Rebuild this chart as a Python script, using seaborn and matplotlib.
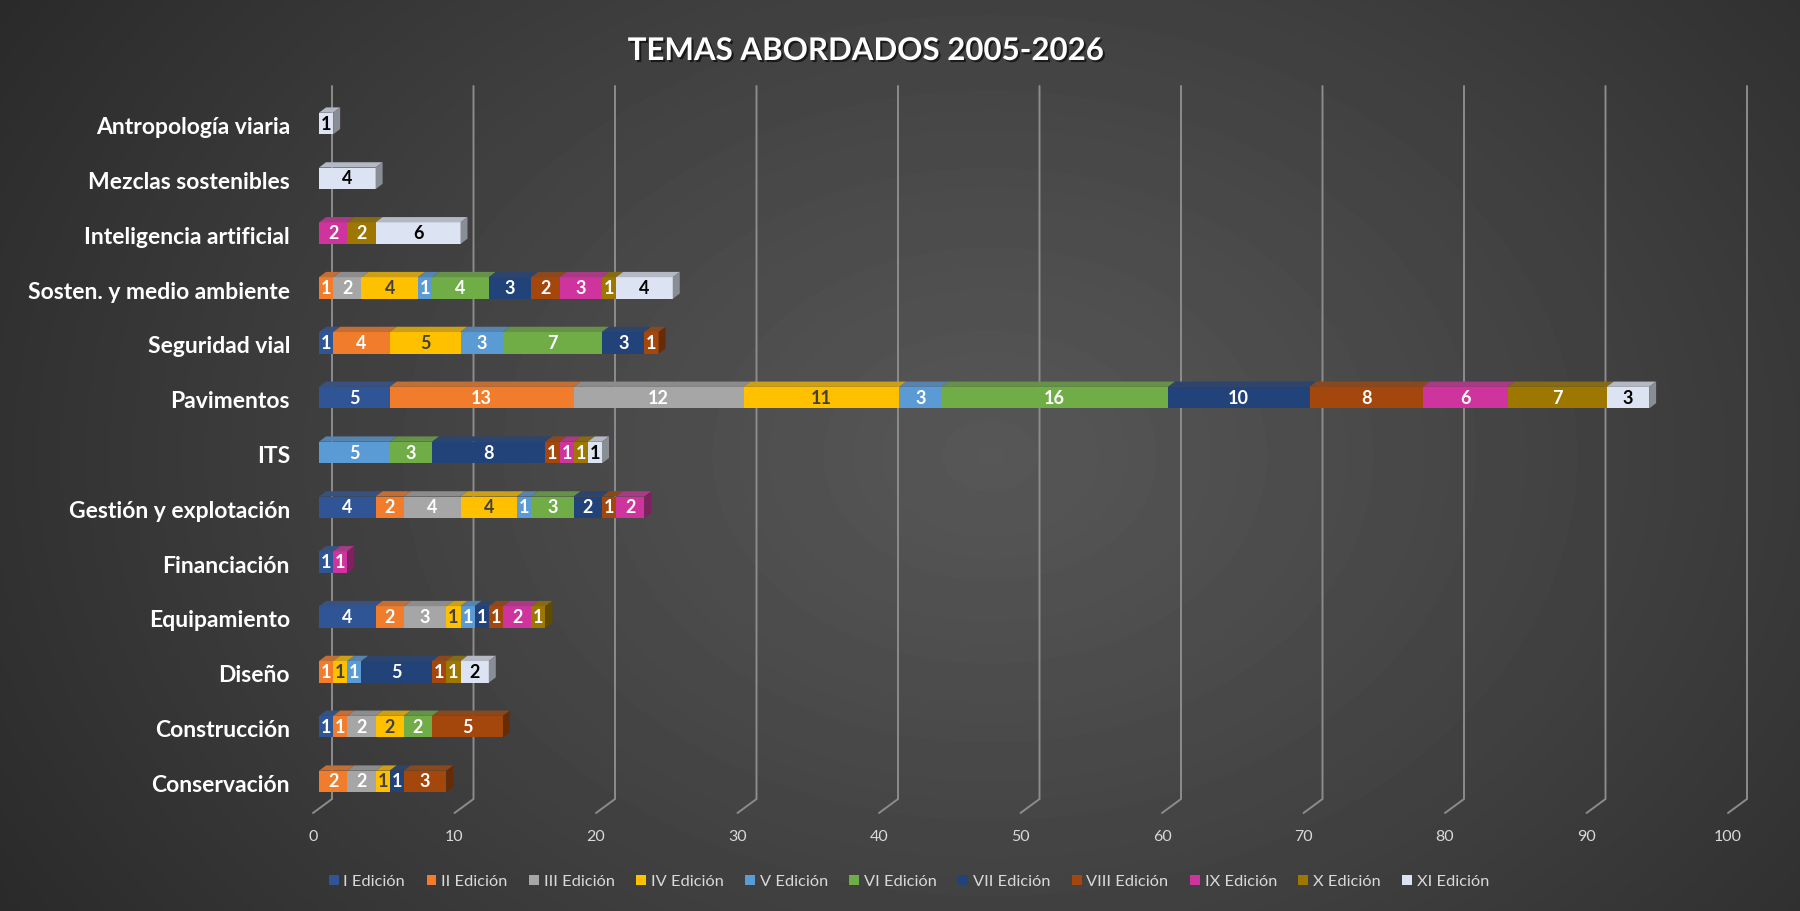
import numpy as np
import pandas as pd
import matplotlib
matplotlib.use("Agg")
import matplotlib.pyplot as plt
import seaborn as sns
from matplotlib.patches import Polygon, Patch
import matplotlib.patheffects as pe
from matplotlib import colors as mcolors

# ---------------- data ----------------
categories = ["Antropología viaria", "Mezclas sostenibles", "Inteligencia artificial",
              "Sosten. y medio ambiente", "Seguridad vial", "Pavimentos", "ITS",
              "Gestión y explotación", "Financiación", "Equipamiento", "Diseño",
              "Construcción", "Conservación"]
editions = ["I Edición", "II Edición", "III Edición", "IV Edición", "V Edición",
            "VI Edición", "VII Edición", "VIII Edición", "IX Edición", "X Edición",
            "XI Edición"]
ed_I    = [0, 0, 0, 0, 1, 5, 0, 4, 1, 4, 0, 1, 0]
ed_II   = [0, 0, 0, 1, 4, 13, 0, 2, 0, 2, 1, 1, 2]
ed_III  = [0, 0, 0, 2, 0, 12, 0, 4, 0, 3, 0, 2, 2]
ed_IV   = [0, 0, 0, 4, 5, 11, 0, 4, 0, 1, 1, 2, 1]
ed_V    = [0, 0, 0, 1, 3, 3, 5, 1, 0, 1, 1, 0, 0]
ed_VI   = [0, 0, 0, 4, 7, 16, 3, 3, 0, 0, 0, 2, 0]
ed_VII  = [0, 0, 0, 3, 3, 10, 8, 2, 0, 1, 5, 0, 1]
ed_VIII = [0, 0, 0, 2, 1, 8, 1, 1, 0, 1, 1, 5, 3]
ed_IX   = [0, 0, 2, 3, 0, 6, 1, 2, 1, 2, 0, 0, 0]
ed_X    = [0, 0, 2, 1, 0, 7, 1, 0, 0, 1, 1, 0, 0]
ed_XI   = [1, 4, 6, 4, 0, 3, 1, 0, 0, 0, 2, 0, 0]
series = [ed_I, ed_II, ed_III, ed_IV, ed_V, ed_VI, ed_VII, ed_VIII, ed_IX, ed_X, ed_XI]
x_ticks = list(range(0, 101, 10))
title = "TEMAS ABORDADOS 2005-2026"

# ---------------- style ----------------
colors = ["#2F5597", "#F07C2C", "#A6A6A6", "#FFC000", "#5B9BD5", "#70AD47",
          "#22427A", "#A4470C", "#CF339D", "#9E7700", "#DCE3F2"]
label_colors = ["white", "white", "white", "#404040", "white", "white",
                "white", "white", "white", "white", "black"]

sns.set_theme(style="white")
plt.rcParams["font.family"] = ["Lato", "DejaVu Sans"]

W, H = 1800, 911
fig = plt.figure(figsize=(W / 100, H / 100), dpi=100)

# background radial gradient
yy, xx = np.mgrid[0:H, 0:W]
r = np.sqrt(((xx - 0.55 * W) / W) ** 2 + ((yy - 0.5 * H) / (0.75 * W)) ** 2)
r = r / r.max()
val = 0x57 - (0x57 - 0x2A) * r ** 1.1
bgax = fig.add_axes([0, 0, 1, 1], zorder=-10)
bgax.imshow(val, cmap="gray", vmin=0, vmax=255, aspect="auto", interpolation="bilinear")
bgax.axis("off")

# main axes geometry (pixels)
ax_left, ax_right, ax_top, ax_bot = 319, 1734, 86, 799
ax = fig.add_axes([ax_left / W, 1 - ax_bot / H, (ax_right - ax_left) / W, (ax_bot - ax_top) / H])
ax.set_facecolor("none")

BAR_H = 0.394
vals = np.array(series, dtype=float)          # (11, 13)
cum = np.cumsum(vals, axis=0)

# front faces: overlay cumulative bars from last to first
for k in reversed(range(len(series))):
    sns.barplot(x=cum[k], y=categories, order=categories, color=colors[k],
                saturation=1, width=BAR_H, orient="h", errorbar=None,
                linewidth=0, ax=ax, zorder=3)

ylim_bottom = 12 + (ax_bot - 781.5) / 54.83
ylim_top = -(123.5 - ax_top) / 54.83
ax.set_xlim(0, 100)
ax.set_ylim(ylim_bottom, ylim_top)

ppx = (ax_right - ax_left) / 100.0
ppy = (ax_bot - ax_top) / (ylim_bottom - ylim_top)
dx = 7 / ppx
dy = 5.3 / ppy


def shade(c, f, base):
    c = np.array(mcolors.to_rgb(c))
    b = np.array(mcolors.to_rgb(base))
    return tuple(c * f + b * (1 - f))


# 3D top/side faces + labels
for i, cat in enumerate(categories):
    left = 0.0
    last = None
    yt = i - BAR_H / 2
    yb = i + BAR_H / 2
    for k in range(len(series)):
        v = vals[k, i]
        if v == 0:
            continue
        x0, x1 = left, left + v
        ax.add_patch(Polygon([(x0, yt), (x1, yt), (x1 + dx, yt - dy), (x0 + dx, yt - dy)],
                             closed=True, facecolor=shade(colors[k], 0.72, "#4A4A4A"),
                             linewidth=0, zorder=4, clip_on=False))
        ax.text((x0 + x1) / 2, i + 0.5 / ppy, f"{int(v)}", ha="center", va="center",
                fontsize=13, fontweight="bold", color=label_colors[k], zorder=6)
        left = x1
        last = k
    if last is not None:
        ax.add_patch(Polygon([(left, yt), (left + dx, yt - dy), (left + dx, yb - dy), (left, yb)],
                             closed=True, facecolor=shade(colors[last], 0.62, "#000000"),
                             linewidth=0, zorder=5, clip_on=False))
    # category label
    ax.text(-29 / ppx, i + 4 / ppy, cat, ha="right", va="center", fontsize=16.5,
            fontweight="bold", color="white", clip_on=False)

# gridlines (back wall + floor)
for v in x_ticks:
    xb = v + 13 / ppx
    ax.plot([xb, xb, v - 6 / ppx], [ylim_top, ylim_bottom, ylim_bottom + 14 / ppy],
            color="#8C8C8C", lw=1.4, clip_on=False, zorder=1, solid_joinstyle="miter")
    ax.text(v - 6 / ppx, ylim_bottom + (837 - ax_bot) / ppy, str(v), ha="center",
            va="center", fontsize=11.5, color="#D9D9D9", clip_on=False)

ax.set_xticks([])
ax.set_yticks([])
ax.set_xlabel("")
ax.set_ylabel("")
for s in ax.spines.values():
    s.set_visible(False)

# title
fig.text(866 / W, 1 - 51 / H, title, ha="center", va="center", fontsize=22.5,
         fontweight="bold", color="white",
         path_effects=[pe.withSimplePatchShadow(offset=(1.5, -1.5), shadow_rgbFace="black", alpha=0.6)])

# legend
handles = [Patch(facecolor=c, edgecolor="none") for c in colors]
fig.legend(handles, editions, loc="center", bbox_to_anchor=(0.505, 1 - 882 / H), ncol=11,
           frameon=False, fontsize=11.8, labelcolor="#D9D9D9", handlelength=0.6,
           handleheight=0.6, handletextpad=0.3, columnspacing=1.3)

fig.savefig("out.png", dpi=100)
